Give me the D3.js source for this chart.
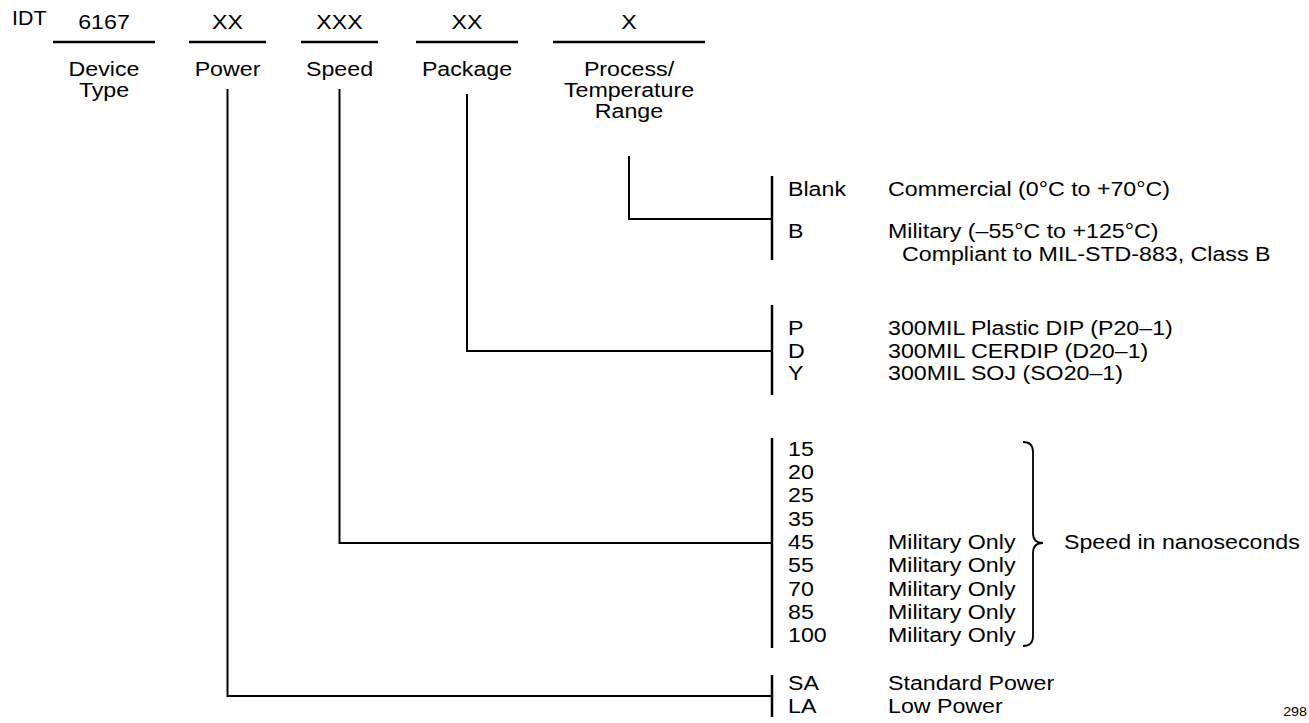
<!DOCTYPE html>
<html>
<head>
<meta charset="utf-8">
<script src="https://cdn.jsdelivr.net/npm/d3@7"></script>
<style>
  body { margin: 0; background: #fff; }
  text { font-family: "Liberation Sans", Arial, Helvetica, sans-serif; fill: #000; }
</style>
</head>
<body>
<div id="chart"></div>
<script>
// part number fields
var fieldNames = ["device", "power", "speed", "package", "process"];
var fieldCodes = ["6167", "XX", "XXX", "XX", "X"];
var fieldLabels = [["Device", "Type"], ["Power"], ["Speed"], ["Package"], ["Process/", "Temperature", "Range"]];

// option lists
var tempCodes = ["Blank", "B"];
var tempDesc = [["Commercial (0\u00b0C to +70\u00b0C)"], ["Military (\u201355\u00b0C to +125\u00b0C)", "Compliant to MIL-STD-883, Class B"]];
var packageCodes = ["P", "D", "Y"];
var packageDesc = [["300MIL Plastic DIP (P20\u20131)"], ["300MIL CERDIP (D20\u20131)"], ["300MIL SOJ (SO20\u20131)"]];
var speedCodes = ["15", "20", "25", "35", "45", "55", "70", "85", "100"];
var speedNotes = [[""], [""], [""], [""], ["Military Only"], ["Military Only"], ["Military Only"], ["Military Only"], ["Military Only"]];
var powerCodes = ["SA", "LA"];
var powerDesc = [["Standard Power"], ["Low Power"]];
var speedNote = "Speed in nanoseconds";
var pageNumber = "298";

var svgWidth = 1309;
var svgHeight = 723;
var SX = 1.16;   // the source type is set a bit wide
var fontSize = 20;

var svg = d3.select("#chart")
  .append("svg")
  .attr("width", svgWidth)
  .attr("height", svgHeight);

// column centres and underline half widths
var xCol = d3.scaleOrdinal().domain(fieldNames).range([104, 227.5, 339.5, 467, 629]);
var halfW = d3.scaleOrdinal().domain(fieldNames).range([51, 38.5, 38.5, 51, 76]);

var barX = 772, codeX = 788, descX = 888;

function addText(g, s, x, y, anchor, size, sx) {
  return g.append("text")
    .attr("transform", `translate(${x},${y}) scale(${sx === undefined ? SX : sx},1)`)
    .attr("text-anchor", anchor || "start")
    .style("font-size", (size || fontSize) + "px")
    .text(s);
}

// header
var head = svg.append("g");
addText(head, "IDT", 12, 25, "start", 21, 1.02);

fieldNames.forEach(function(f, i) {
  var cx = xCol(f);
  addText(head, fieldCodes[i], cx, 29, "middle");
  head.append("line")
    .attr("x1", cx - halfW(f)).attr("x2", cx + halfW(f))
    .attr("y1", 42).attr("y2", 42)
    .attr("stroke", "#000").attr("stroke-width", 2.5);
  fieldLabels[i].forEach(function(l, j) {
    addText(head, l, cx, 76 + j * 21, "middle");
  });
});

// option groups, one per field that branches to the right
var groups = [
  {field: "process", codes: tempCodes, desc: tempDesc, first: 196, step: 42, barTop: 176, barBot: 260, joinY: 219, startY: 156},
  {field: "package", codes: packageCodes, desc: packageDesc, first: 335, step: 22.7, barTop: 305, barBot: 395, joinY: 351, startY: 94},
  {field: "speed", codes: speedCodes, desc: speedNotes, first: 455.7, step: 23.3, barTop: 438, barBot: 648, joinY: 543, startY: 89},
  {field: "power", codes: powerCodes, desc: powerDesc, first: 690, step: 23.3, barTop: 675, barBot: 717, joinY: 696, startY: 89}
];

var lines = svg.append("g").attr("fill", "none").attr("stroke", "#000");

groups.forEach(function(grp) {
  var y = d3.scaleLinear().domain([0, 1]).range([grp.first, grp.first + grp.step]);
  var cx = xCol(grp.field);

  // connector from the field down and across
  lines.append("path")
    .attr("d", `M${cx},${grp.startY} V${grp.joinY} H${barX}`)
    .attr("stroke-width", 2)
    .attr("stroke-linejoin", "miter");

  // bar
  lines.append("line")
    .attr("x1", barX).attr("x2", barX)
    .attr("y1", grp.barTop).attr("y2", grp.barBot)
    .attr("stroke-width", 2.5);

  var g = svg.append("g");
  grp.codes.forEach(function(c, i) {
    addText(g, c, codeX, y(i), "start");
    grp.desc[i].forEach(function(d, j) {
      if (d) addText(g, d, descX + (j > 0 ? 14 : 0), y(i) + j * 23, "start");
    });
  });

  if (grp.field === "speed") {
    var top = grp.barTop + 4, bot = grp.barBot - 2, mid = grp.joinY;
    var bx = 1033;
    lines.append("path")
      .attr("d", `M${bx - 10},${top} Q${bx},${top} ${bx},${top + 10} V${mid - 10} Q${bx},${mid} ${bx + 10},${mid}` +
        ` Q${bx},${mid} ${bx},${mid + 10} V${bot - 10} Q${bx},${bot} ${bx - 10},${bot}`)
      .attr("stroke-width", 1.8);
    addText(g, speedNote, 1064, y(4), "start");
  }
});

// page number sits tight against the right edge
addText(svg, pageNumber, 1307, 716, "end", 13, 1.1);
</script>
</body>
</html>
